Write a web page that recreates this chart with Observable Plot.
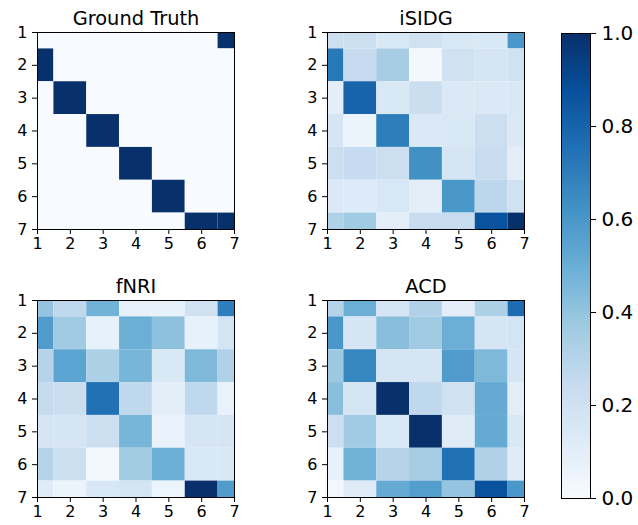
<!DOCTYPE html>
<html>
<head>
<meta charset="utf-8">
<script src="https://cdn.jsdelivr.net/npm/d3@7"></script>
<script src="https://cdn.jsdelivr.net/npm/@observablehq/plot@0.6"></script>
<style>
  body { margin: 0; background: #fff; }
  #chart { position: relative; width: 638px; height: 525px; font-family: "DejaVu Sans", sans-serif; }
  #chart > div { position: absolute; }
</style>
</head>
<body>
<div id="chart"></div>
<script>
// ---- data ----
const labels = [1, 2, 3, 4, 5, 6, 7];
const titles = ["Ground Truth", "iSIDG", "fNRI", "ACD"];
const colorbarTicks = [0, 0.2, 0.4, 0.6, 0.8, 1.0];

const groundTruth = [
  [0, 0, 0, 0, 0, 0, 1],
  [1, 0, 0, 0, 0, 0, 0],
  [0, 1, 0, 0, 0, 0, 0],
  [0, 0, 1, 0, 0, 0, 0],
  [0, 0, 0, 1, 0, 0, 0],
  [0, 0, 0, 0, 1, 0, 0],
  [0, 0, 0, 0, 0, 1, 1]
];
const iSIDG = [
  [0.22, 0.22, 0.15, 0.20, 0.15, 0.15, 0.60],
  [0.72, 0.25, 0.35, 0.02, 0.20, 0.17, 0.20],
  [0.10, 0.80, 0.15, 0.23, 0.14, 0.14, 0.15],
  [0.17, 0.06, 0.70, 0.14, 0.15, 0.22, 0.14],
  [0.22, 0.25, 0.22, 0.63, 0.17, 0.24, 0.10],
  [0.14, 0.13, 0.16, 0.10, 0.60, 0.28, 0.20],
  [0.32, 0.37, 0.10, 0.24, 0.24, 0.87, 1.00]
];
const fNRI = [
  [0.40, 0.27, 0.48, 0.08, 0.08, 0.20, 0.70],
  [0.58, 0.37, 0.08, 0.50, 0.42, 0.08, 0.18],
  [0.30, 0.55, 0.33, 0.47, 0.15, 0.45, 0.32],
  [0.25, 0.23, 0.75, 0.27, 0.10, 0.27, 0.07],
  [0.17, 0.17, 0.22, 0.47, 0.07, 0.17, 0.17],
  [0.30, 0.22, 0.02, 0.36, 0.50, 0.15, 0.15],
  [0.12, 0.06, 0.16, 0.18, 0.05, 1.00, 0.58]
];
const ACD = [
  [0.30, 0.50, 0.17, 0.32, 0.10, 0.33, 0.77],
  [0.60, 0.17, 0.43, 0.37, 0.50, 0.17, 0.18],
  [0.38, 0.67, 0.17, 0.17, 0.58, 0.45, 0.17],
  [0.43, 0.17, 1.00, 0.27, 0.20, 0.52, 0.10],
  [0.22, 0.37, 0.15, 1.00, 0.12, 0.52, 0.15],
  [0.08, 0.48, 0.30, 0.35, 0.75, 0.32, 0.12],
  [0.03, 0.12, 0.52, 0.57, 0.40, 0.87, 0.60]
];
const matrices = [groundTruth, iSIDG, fNRI, ACD];

// matplotlib "Blues" colour stops
const bluesStops = ["#f7fbff", "#deebf7", "#c6dbef", "#9ecae1", "#6baed6", "#4292c6", "#2171b5", "#08519c", "#08306b"];
const colorScale = {
  type: "linear",
  domain: bluesStops.map((_, i) => i / (bluesStops.length - 1)),
  range: bluesStops,
  interpolate: "rgb",
  clamp: true
};

const chart = document.getElementById("chart");
const font = { fontFamily: "DejaVu Sans, sans-serif", fontSize: "16px", color: "#000", background: "transparent", overflow: "visible" };

function panel(title, matrix, left, top) {
  const data = matrix.flatMap((row, r) => row.map((v, c) => ({ row: labels[r], col: labels[c], v })));
  const plot = Plot.plot({
    width: 246, height: 259,
    marginLeft: 37, marginRight: 12, marginTop: 32, marginBottom: 30,
    style: font,
    x: { domain: [1, 7] },
    y: { domain: [1, 7], reverse: true },
    color: colorScale,
    marks: [
      Plot.rect(data, {
        x1: d => d.col - 0.5, x2: d => d.col + 0.5,
        y1: d => d.row - 0.5, y2: d => d.row + 0.5,
        fill: "v", clip: true
      }),
      Plot.frame({ stroke: "#000", strokeWidth: 1 }),
      Plot.axisX({ ticks: labels, tickFormat: "d", tickSize: 5, tickPadding: 3, fontSize: 16, label: null, fill: "#000", stroke: "#000" }),
      Plot.axisY({ ticks: labels, tickFormat: "d", tickSize: 5, tickPadding: 5, fontSize: 16, label: null, fill: "#000", stroke: "#000" }),
      Plot.text([title], { frameAnchor: "top", lineAnchor: "bottom", dy: -8, fontSize: 19.4, fill: "#000" })
    ]
  });
  const wrap = document.createElement("div");
  wrap.style.left = left + "px";
  wrap.style.top = top + "px";
  wrap.appendChild(plot);
  chart.appendChild(wrap);
}

panel(titles[0], matrices[0], 0, 0);
panel(titles[1], matrices[1], 290, 0);
panel(titles[2], matrices[2], 0, 268);
panel(titles[3], matrices[3], 290, 268);

// colour bar
const cb = Plot.plot({
  width: 98, height: 525,
  marginLeft: 21, marginRight: 48, marginTop: 33, marginBottom: 27,
  style: { ...font, fontSize: "20px" },
  x: { domain: [0, 1], axis: null },
  y: { domain: [0, 1], axis: null },
  color: colorScale,
  marks: [
    Plot.raster({ x1: 0, x2: 1, y1: 0, y2: 1, width: 2, height: 465, fill: (x, y) => y, imageRendering: "auto" }),
    Plot.frame({ stroke: "#000", strokeWidth: 1 }),
    Plot.axisY({ anchor: "right", ticks: colorbarTicks, tickFormat: ".1f", tickSize: 5, tickPadding: 6, fontSize: 20, label: null, fill: "#000", stroke: "#000" })
  ]
});
const cbWrap = document.createElement("div");
cbWrap.style.left = "540px";
cbWrap.style.top = "0px";
cbWrap.appendChild(cb);
chart.appendChild(cbWrap);
</script>
</body>
</html>
